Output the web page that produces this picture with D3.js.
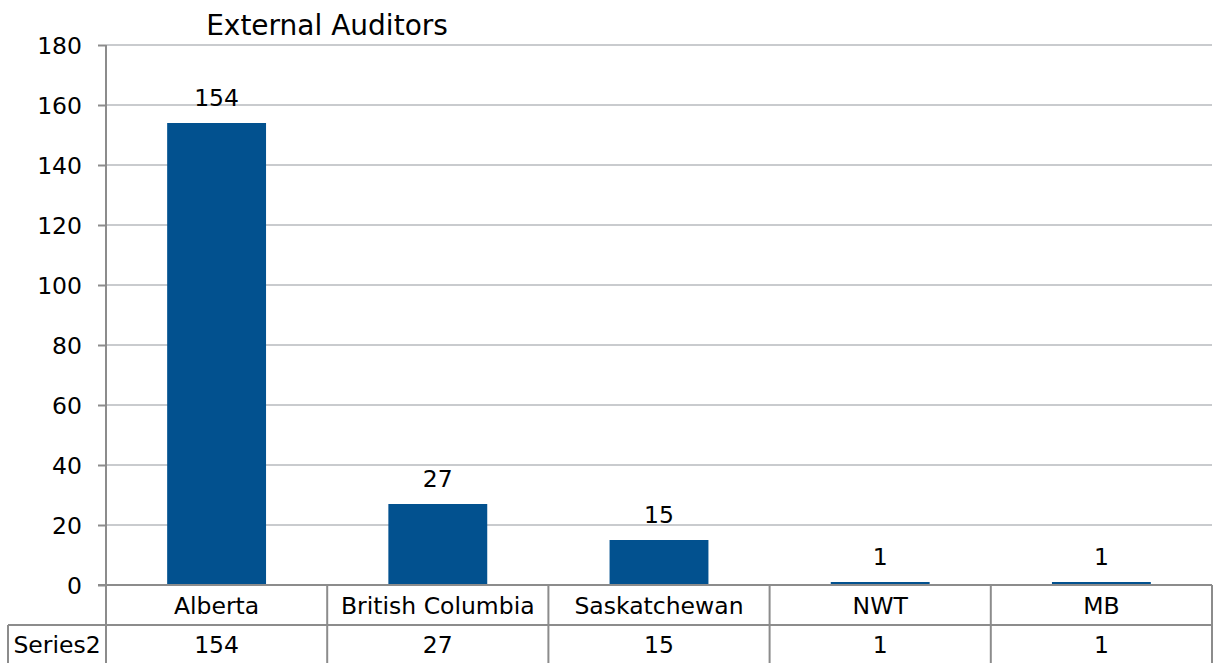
<!DOCTYPE html>
<html>
<head>
	<meta charset="utf-8">
	<title>External Auditors</title>
	<script src="https://d3js.org/d3.v7.min.js"></script>
	<style>
		body{ margin:0; background:#fff; }
		text{ font-family:"DejaVu Sans", sans-serif; font-size:23.5px; fill:#000; }
		.title{ font-size:28px; }
		.grid line{ stroke:#c9cbce; stroke-width:2; }
		.frame{ stroke:#8c8c8c; stroke-width:2; fill:none; }
	</style>
</head>
<body>
	<svg width="1214" height="663"></svg>
<script>
	var categories = ['Alberta', 'British Columbia', 'Saskatchewan', 'NWT', 'MB'];
	var values = [154, 27, 15, 1, 1];
	var seriesName = 'Series2';
	var yTicks = [0, 20, 40, 60, 80, 100, 120, 140, 160, 180];

	var svg = d3.select('svg');
	var plotL = 106, plotR = 1212, plotT = 45, plotB = 585;
	var rowH = 40, tableL = 8;

	var x = d3.scaleBand().domain(categories).range([plotL, plotR]).padding(0);
	var y = d3.scaleLinear().domain([0, 180]).range([plotB, plotT]);
	var barW = x.bandwidth() * 0.447;

	// gridlines
	svg.append('g').attr('class', 'grid')
		.selectAll('line').data(yTicks.filter(function(d){ return d > 0; }))
		.enter().append('line')
		.attr('x1', plotL).attr('x2', plotR)
		.attr('y1', function(d){ return y(d); })
		.attr('y2', function(d){ return y(d); });

	// bars
	svg.append('g').selectAll('rect').data(values).enter()
		.append('rect')
		.attr('x', function(d, i){ return x(categories[i]) + (x.bandwidth() - barW) / 2; })
		.attr('y', function(d){ return y(d); })
		.attr('width', barW)
		.attr('height', function(d){ return y(0) - y(d); })
		.attr('fill', '#02518f');

	// data labels
	svg.append('g').selectAll('text').data(values).enter()
		.append('text')
		.attr('x', function(d, i){ return x(categories[i]) + x.bandwidth() / 2; })
		.attr('y', function(d){ return y(d) - 17; })
		.attr('text-anchor', 'middle')
		.text(function(d){ return d; });

	// y axis
	var yAxis = d3.axisLeft(y).tickValues(yTicks).tickSize(8).tickSizeOuter(0).tickPadding(16);
	var ga = svg.append('g').attr('transform', 'translate(' + plotL + ',0)').call(yAxis);
	ga.attr('font-family', null).attr('font-size', null);
	ga.select('.domain').remove();
	ga.selectAll('.tick line').attr('stroke', '#8c8c8c').attr('stroke-width', 2);
	ga.selectAll('.tick text').attr('dy', '0.36em');

	// frame: axis lines + data table
	var f = svg.append('g');
	f.append('line').attr('class', 'frame').attr('x1', plotL).attr('x2', plotL).attr('y1', plotT).attr('y2', 663);
	f.append('line').attr('class', 'frame').attr('x1', plotL - 8).attr('x2', plotR).attr('y1', plotB).attr('y2', plotB);
	f.append('line').attr('class', 'frame').attr('x1', tableL).attr('x2', plotR).attr('y1', plotB + rowH).attr('y2', plotB + rowH);
	f.append('line').attr('class', 'frame').attr('x1', tableL).attr('x2', tableL).attr('y1', plotB + rowH).attr('y2', 663);
	f.selectAll('.col').data(categories).enter().append('line').attr('class', 'frame')
		.attr('x1', function(d){ return x(d) + x.bandwidth(); })
		.attr('x2', function(d){ return x(d) + x.bandwidth(); })
		.attr('y1', plotB).attr('y2', 663);

	// table text
	svg.append('g').selectAll('text').data(categories).enter()
		.append('text')
		.attr('x', function(d){ return x(d) + x.bandwidth() / 2; })
		.attr('y', plotB + 29)
		.attr('text-anchor', 'middle')
		.text(function(d){ return d; });

	svg.append('g').selectAll('text').data(values).enter()
		.append('text')
		.attr('x', function(d, i){ return x(categories[i]) + x.bandwidth() / 2; })
		.attr('y', plotB + rowH + 28)
		.attr('text-anchor', 'middle')
		.text(function(d){ return d; });

	svg.append('text')
		.attr('x', (tableL + plotL) / 2)
		.attr('y', plotB + rowH + 28)
		.attr('text-anchor', 'middle')
		.text(seriesName);

	svg.append('text').attr('class', 'title')
		.attr('x', 327).attr('y', 35)
		.attr('text-anchor', 'middle')
		.text('External Auditors');
</script>
</body>
</html>
